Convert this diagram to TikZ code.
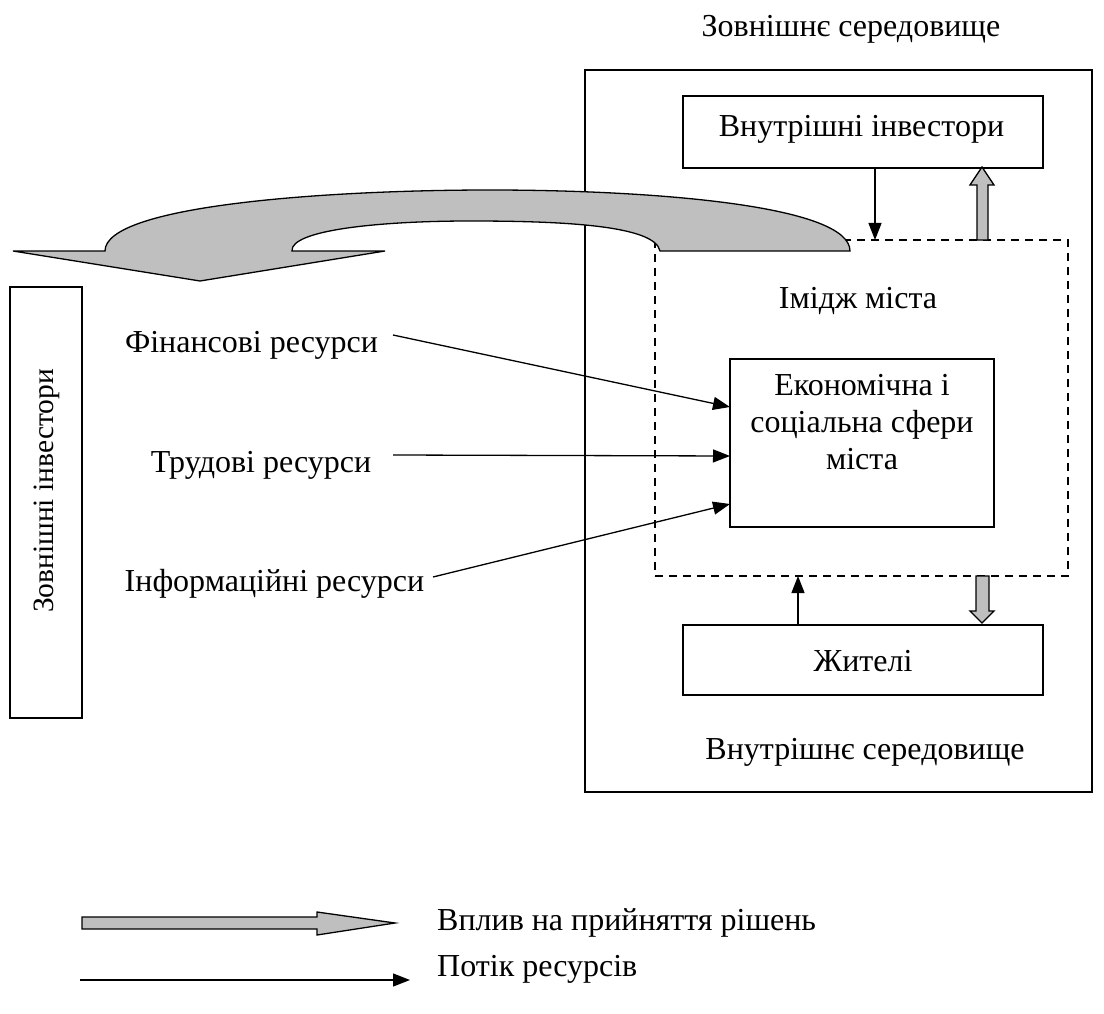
\documentclass[tikz,border=0pt]{standalone}
\usepackage{fontspec}
\setmainfont{Liberation Serif}
\usetikzlibrary{arrows.meta}
\begin{document}
\begin{tikzpicture}[x=1pt,y=-1pt,
  lbl/.style={font=\fontsize{32}{37}\selectfont, inner sep=0pt, anchor=base},
  boxshape/.style={draw, line width=1.2pt, inner sep=0pt},
  flow/.style={line width=1.3pt, -{Triangle[length=17pt,width=13pt]}},
  influence/.style={draw, line width=1.3pt, fill=black!25, line join=miter}]
\useasboundingbox (0,0) rectangle (1104,1014);

% environment frame and boxes
\node[boxshape, minimum width=507pt, minimum height=722pt] (env) at (838.5,431) {};
\node[lbl] (outer) at (851,37) {Зовнішнє середовище};
\node[boxshape, minimum width=360pt, minimum height=72pt] (inv) at (863,132) {};
\node[lbl] (invtxt) at (861.5,137) {Внутрішні інвестори};
\node[draw, line width=1.2pt, dash pattern=on 8pt off 6pt, minimum width=413pt, minimum height=336pt, inner sep=0pt] (image) at (861.5,408) {};
\node[lbl] (imgtxt) at (858,308) {Імідж міста};
\node[boxshape, minimum width=264pt, minimum height=168pt] (econ) at (862,443) {};
\node[lbl, align=center, anchor=north] (econtxt) at (862,374) {Економічна і\\соціальна сфери\\міста};
\node[boxshape, minimum width=360pt, minimum height=70pt] (res) at (863,660) {};
\node[lbl] (restxt) at (863,671) {Жителі};
\node[lbl] (inner) at (865,759) {Внутрішнє середовище};

% external investors
\node[boxshape, minimum width=72pt, minimum height=431pt] (ext) at (46,502.5) {};
\node[lbl, font=\fontsize{29.5}{34}\selectfont, rotate=90, anchor=center] (exttxt) at (47,491) {Зовнішні інвестори};

% resources
\node[lbl] (fin) at (251.5,352) {Фінансові ресурси};
\node[lbl] (lab) at (261,472) {Трудові ресурси};
\node[lbl] (info) at (274.5,591) {Інформаційні ресурси};
\coordinate (finS) at (393,335);
\coordinate (labS) at (393,455);
\coordinate (infoS) at (433,577);
\coordinate (finE) at (730,407);
\coordinate (labE) at (730,456);
\coordinate (infoE) at (730,504);
\draw[flow] (finS) -- (finE);
\draw[flow] (labS) -- (labE);
\draw[flow] (infoS) -- (infoE);

% resource flows between residents, investors and the image
\coordinate (invA) at (875,168);
\coordinate (invB) at (875,240);
\draw[flow] (invA) -- (invB);
\coordinate (resA) at (798,625);
\coordinate (resB) at (798,576);
\draw[flow] (resA) -- (resB);

% influence arrows
\draw[influence] (977,240) -- (977,185) -- (970,185) -- (982,167) -- (994,185) -- (988,185) -- (988,240) -- cycle;
\draw[influence] (976,576) -- (976,611) -- (970,611) -- (982,623) -- (994,611) -- (989,611) -- (989,576) -- cycle;

% large curved influence arrow
\draw[influence] (105,251) .. controls (105,205) and (330,190) .. (490,190)
  .. controls (650,190) and (850,205) .. (850,251) -- (660,251)
  .. controls (655,225) and (560,221) .. (470,221)
  .. controls (380,221) and (290,230) .. (292,251)
  -- (385,251) -- (200,281) -- (13,251) -- cycle;

% legend
\draw[influence] (82,917) -- (317,917) -- (317,912) -- (395,923) -- (317,935) -- (317,929) -- (82,929) -- cycle;
\node[lbl, anchor=base west] (leg1) at (437,930) {Вплив на прийняття рішень};
\coordinate (legA) at (80,980);
\coordinate (legB) at (410,980);
\draw[flow] (legA) -- (legB);
\node[lbl, anchor=base west] (leg2) at (437,976) {Потік ресурсів};
\end{tikzpicture}
\end{document}
